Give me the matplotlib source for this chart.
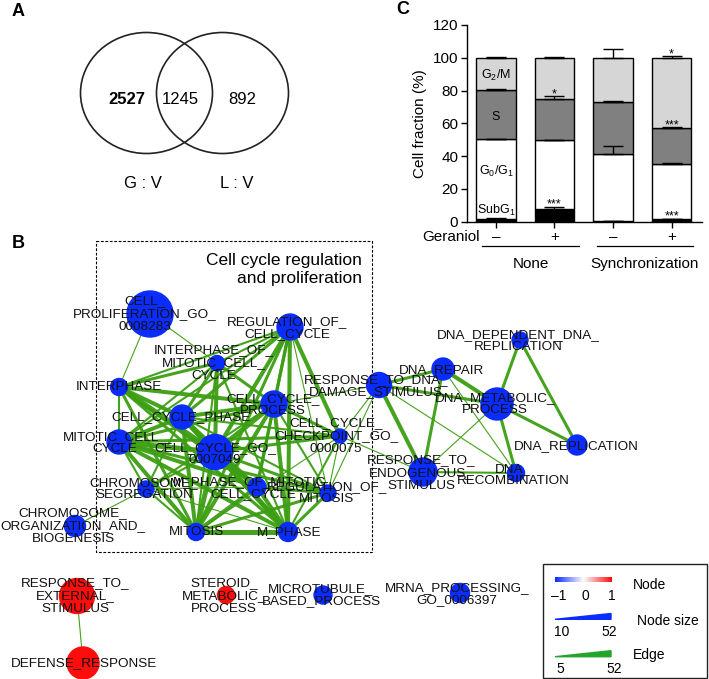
import numpy as np
import matplotlib.pyplot as plt
from matplotlib.patches import Ellipse, Circle, Rectangle, Polygon
from matplotlib.colors import LinearSegmentedColormap

plt.rcParams['font.family'] = ['Liberation Sans', 'DejaVu Sans']
plt.rcParams['mathtext.fontset'] = 'custom'
plt.rcParams['mathtext.rm'] = 'Liberation Sans'
plt.rcParams['mathtext.it'] = 'Liberation Sans:italic'

# ---------------- panel A data ----------------
venn_counts = [2527, 1245, 892]
venn_sets = ['G : V', 'L : V']

# ---------------- panel C data ----------------
treatment = ['–', '+', '–', '+']
groups = ['None', 'Synchronization']
subg1 = [1.8, 8.0, 0.3, 1.5]
g0g1 = [48.4, 41.8, 41.0, 34.0]
s_phase = [30.3, 25.0, 31.6, 21.6]
g2m = [19.5, 25.2, 27.1, 42.9]
subg1_err = [0.2, 1.2, 0.1, 0.4]
g0g1_err = [0.5, 0.3, 5.0, 0.3]
s_err = [0.5, 1.6, 1.0, 0.6]
g2m_err = [0.3, 0.5, 5.2, 0.9]
# (bar, phase index, mark)
stars = [(1, 0, '***'), (1, 2, '*'), (3, 3, '*'), (3, 2, '***'), (3, 0, '***')]

# ---------------- panel B data ----------------
node_names = ['PROLIF', 'REG_CC', 'INTER_MIT', 'INTERPHASE', 'CC_PROCESS', 'CC_PHASE',
              'MIT_CC', 'CC_GO', 'CHECKPOINT', 'RESP_DNA', 'DNA_REPAIR', 'DNA_DEP',
              'DNA_MET', 'DNA_REPL', 'RESP_ENDO', 'DNA_RECOMB', 'CHROM_SEG', 'M_PHASE_MIT',
              'REG_MIT', 'CHROM_ORG', 'MITOSIS', 'M_PHASE', 'RESP_EXT', 'DEFENSE',
              'STEROID', 'MICROTUB', 'MRNA']
node_labels = ['CELL_\nPROLIFERATION_GO_\n0008283', 'REGULATION_OF_\nCELL_CYCLE',
               'INTERPHASE_OF_\nMITOTIC_CELL_\nCYCLE', 'INTERPHASE', 'CELL_CYCLE_\nPROCESS',
               'CELL_CYCLE_PHASE', 'MITOTIC_CELL_\nCYCLE', 'CELL_CYCLE_GO_\n0007049',
               'CELL_CYCLE_\nCHECKPOINT_GO_\n0000075', 'RESPONSE_TO_DNA_\nDAMAGE_STIMULUS',
               'DNA_REPAIR', 'DNA_DEPENDENT_DNA_\nREPLICATION', 'DNA_METABOLIC_\nPROCESS',
               'DNA_REPLICATION', 'RESPONSE_TO_\nENDOGENOUS_\nSTIMULUS', 'DNA_\nRECOMBINATION',
               'CHROMOSOME_\nSEGREGATION', 'M_PHASE_OF_MITOTIC_\nCELL_CYCLE',
               'REGULATION_OF_\nMITOSIS', 'CHROMOSOME_\nORGANIZATION_AND_\nBIOGENESIS',
               'MITOSIS', 'M_PHASE', 'RESPONSE_TO_\nEXTERNAL_\nSTIMULUS', 'DEFENSE_RESPONSE',
               'STEROID_\nMETABOLIC_\nPROCESS', 'MICROTUBULE_\nBASED_PROCESS',
               'MRNA_PROCESSING_\nGO_0006397']
node_score = [-1] * 22 + [1, 1, 1, -1, -1]

edges = [
    ('PROLIF', 'INTERPHASE', 1), ('PROLIF', 'INTER_MIT', 1),
    ('REG_CC', 'INTER_MIT', 2), ('REG_CC', 'INTERPHASE', 2), ('REG_CC', 'CC_PROCESS', 3),
    ('REG_CC', 'CC_PHASE', 3), ('REG_CC', 'CC_GO', 4), ('REG_CC', 'MIT_CC', 2),
    ('REG_CC', 'CHECKPOINT', 4), ('REG_CC', 'M_PHASE', 4), ('REG_CC', 'MITOSIS', 3),
    ('REG_CC', 'REG_MIT', 1), ('REG_CC', 'M_PHASE_MIT', 3),
    ('INTER_MIT', 'INTERPHASE', 3), ('INTER_MIT', 'CC_PHASE', 3), ('INTER_MIT', 'CC_GO', 4),
    ('INTER_MIT', 'MIT_CC', 2), ('INTER_MIT', 'CC_PROCESS', 3), ('INTER_MIT', 'M_PHASE', 2),
    ('INTER_MIT', 'MITOSIS', 2),
    ('INTERPHASE', 'CC_PHASE', 4), ('INTERPHASE', 'CC_GO', 5), ('INTERPHASE', 'CC_PROCESS', 4),
    ('INTERPHASE', 'MIT_CC', 2), ('INTERPHASE', 'M_PHASE', 3), ('INTERPHASE', 'MITOSIS', 3),
    ('INTERPHASE', 'M_PHASE_MIT', 3),
    ('CC_PROCESS', 'CC_PHASE', 4), ('CC_PROCESS', 'CC_GO', 5), ('CC_PROCESS', 'MIT_CC', 3),
    ('CC_PROCESS', 'CHECKPOINT', 3), ('CC_PROCESS', 'M_PHASE', 4), ('CC_PROCESS', 'MITOSIS', 4),
    ('CC_PROCESS', 'REG_MIT', 2), ('CC_PROCESS', 'M_PHASE_MIT', 3), ('CC_PROCESS', 'RESP_DNA', 1),
    ('CC_PROCESS', 'CHROM_SEG', 2),
    ('CC_PHASE', 'CC_GO', 5), ('CC_PHASE', 'MIT_CC', 4), ('CC_PHASE', 'M_PHASE', 4),
    ('CC_PHASE', 'MITOSIS', 4), ('CC_PHASE', 'M_PHASE_MIT', 4), ('CC_PHASE', 'CHECKPOINT', 2),
    ('CC_PHASE', 'REG_MIT', 2), ('CC_PHASE', 'CHROM_SEG', 2),
    ('MIT_CC', 'CC_GO', 5), ('MIT_CC', 'M_PHASE', 4), ('MIT_CC', 'MITOSIS', 4),
    ('MIT_CC', 'M_PHASE_MIT', 4), ('MIT_CC', 'CHECKPOINT', 3), ('MIT_CC', 'REG_MIT', 3),
    ('MIT_CC', 'CHROM_SEG', 2),
    ('CC_GO', 'M_PHASE', 5), ('CC_GO', 'MITOSIS', 5), ('CC_GO', 'M_PHASE_MIT', 4),
    ('CC_GO', 'CHECKPOINT', 3), ('CC_GO', 'REG_MIT', 3), ('CC_GO', 'CHROM_SEG', 2),
    ('M_PHASE', 'MITOSIS', 5), ('M_PHASE', 'M_PHASE_MIT', 4), ('M_PHASE', 'REG_MIT', 3),
    ('M_PHASE', 'CHECKPOINT', 2), ('M_PHASE', 'CHROM_SEG', 1),
    ('MITOSIS', 'M_PHASE_MIT', 4), ('MITOSIS', 'REG_MIT', 3), ('MITOSIS', 'CHROM_SEG', 2),
    ('MITOSIS', 'CHECKPOINT', 1), ('M_PHASE_MIT', 'REG_MIT', 3), ('M_PHASE_MIT', 'CHROM_SEG', 1),
    ('CHROM_SEG', 'CHROM_ORG', 1),
    ('CHECKPOINT', 'RESP_DNA', 1), ('CHECKPOINT', 'RESP_ENDO', 1), ('CHECKPOINT', 'REG_MIT', 1),
    ('RESP_DNA', 'DNA_REPAIR', 3), ('RESP_DNA', 'DNA_MET', 3), ('RESP_DNA', 'RESP_ENDO', 4),
    ('RESP_DNA', 'DNA_RECOMB', 1), ('RESP_DNA', 'REG_MIT', 1),
    ('DNA_REPAIR', 'DNA_MET', 4), ('DNA_REPAIR', 'RESP_ENDO', 3), ('DNA_REPAIR', 'DNA_RECOMB', 1),
    ('DNA_MET', 'DNA_DEP', 3), ('DNA_MET', 'DNA_REPL', 3), ('DNA_MET', 'RESP_ENDO', 1),
    ('DNA_MET', 'DNA_RECOMB', 3), ('DNA_DEP', 'DNA_REPL', 3), ('RESP_ENDO', 'DNA_RECOMB', 2),
    ('RESP_EXT', 'DEFENSE', 1),
]

# layout of the network in figure pixels: node x, y, radius, label x, y
layout = {
    'PROLIF': (150, 314, 23, 145, 314), 'REG_CC': (290, 327, 13, 287, 328),
    'INTER_MIT': (217, 363, 7.5, 214, 363), 'INTERPHASE': (119, 387, 8.5, 119, 387),
    'CC_PROCESS': (274, 404, 13, 273, 405), 'CC_PHASE': (182, 417, 12, 181, 417),
    'MIT_CC': (119, 442, 12, 115, 443), 'CC_GO': (215, 452, 17.5, 215, 454),
    'CHECKPOINT': (340, 436, 7, 336, 436), 'RESP_DNA': (379, 385, 12.5, 376, 386),
    'DNA_REPAIR': (443, 369, 11, 442, 370), 'DNA_DEP': (520, 340, 8, 518, 341),
    'DNA_MET': (497, 404, 16, 495, 404), 'DNA_REPL': (577, 445, 10, 576, 446),
    'RESP_ENDO': (423, 472, 14, 421, 473), 'DNA_RECOMB': (516, 473, 8.5, 513, 475),
    'CHROM_SEG': (146, 489, 8, 144, 489), 'M_PHASE_MIT': (257, 487, 9, 253, 488),
    'REG_MIT': (328, 493, 8, 327, 493), 'CHROM_ORG': (75, 526, 10.5, 73, 526),
    'MITOSIS': (196, 532, 8.5, 196, 532), 'M_PHASE': (288, 532, 9.5, 289, 532),
    'RESP_EXT': (77, 596, 17.5, 75, 596), 'DEFENSE': (83, 663, 16, 84, 663),
    'STEROID': (226, 595, 8.5, 224, 596), 'MICROTUB': (323, 595, 9, 321, 595),
    'MRNA': (460, 593, 9.5, 457, 594),
}

BLUE = '#0a2cff'
RED = '#ff0c0c'
GREEN = '#3c9e12'

fig = plt.figure(figsize=(7.09, 6.79), dpi=100)

# full-figure canvas in pixel units for panels A, B
ax0 = fig.add_axes([0, 0, 1, 1])
ax0.set_xlim(0, 709)
ax0.set_ylim(679, 0)
ax0.axis('off')

for lab, px, py in [('A', 18, 12), ('B', 18, 243), ('C', 403, 10)]:
    ax0.text(px, py, lab, fontsize=13, fontweight='bold', ha='center', va='center')

# ---- Venn
for cx in (146.5, 222.5):
    ax0.add_patch(Ellipse((cx, 93), 132, 121, fill=False, lw=1.2, ec='#222222'))
ax0.text(127, 99, str(venn_counts[0]), fontsize=12, fontweight='bold', ha='center', va='center')
ax0.text(180, 99, str(venn_counts[1]), fontsize=12, ha='center', va='center')
ax0.text(242, 99, str(venn_counts[2]), fontsize=12, ha='center', va='center')
ax0.text(143, 183, venn_sets[0], fontsize=12, ha='center', va='center')
ax0.text(237, 183, venn_sets[1], fontsize=12, ha='center', va='center')

# ---- network
ax0.add_patch(Rectangle((95.7, 241), 276, 310.7, fill=False, lw=0.8,
                        ls=(0, (2.5, 1.5)), ec='black'))
ax0.text(362, 269.5, 'Cell cycle regulation\nand proliferation', fontsize=12.5,
         ha='right', va='center', multialignment='right', linespacing=1.2)

for a, b, w in edges:
    xa, ya = layout[a][:2]
    xb, yb = layout[b][:2]
    ax0.plot([xa, xb], [ya, yb], color=GREEN, lw=0.1 + 0.7 * w, alpha=0.95,
             solid_capstyle='butt', zorder=2)

for name, lab, sc in zip(node_names, node_labels, node_score):
    x, y, r, lx, ly = layout[name]
    ax0.add_patch(Circle((x, y), r, color=BLUE if sc < 0 else RED, zorder=3))
    ax0.text(lx, ly, lab, fontsize=9.7, ha='center', va='center', color='#111111',
             multialignment='center', linespacing=1.08, zorder=4)

# ---- legend box
ax0.add_patch(Rectangle((543.3, 564), 164, 114.3, fill=False, lw=1.0, ec='#222222'))
cmap = LinearSegmentedColormap.from_list('bwr2', [BLUE, 'white', RED])
ax0.imshow(np.linspace(-1, 1, 100)[None, :], cmap=cmap, extent=(555, 612, 582, 577),
           aspect='auto')
for v, px in zip([-1, 0, 1], [559, 585.7, 612]):
    ax0.text(px, 596, '–1' if v == -1 else str(v), fontsize=10, ha='center', va='center')
ax0.text(633, 585, 'Node', fontsize=10, ha='left', va='center')
ax0.add_patch(Polygon([(555, 619.3), (611, 613.5), (611, 619.3)], color=BLUE))
ax0.text(562, 632, '10', fontsize=10, ha='center', va='center')
ax0.text(609, 632, '52', fontsize=10, ha='center', va='center')
ax0.text(637, 621, 'Node size', fontsize=10, ha='left', va='center')
ax0.add_patch(Polygon([(555, 656.7), (611, 650.7), (611, 656.7)], color='#22a52a'))
ax0.text(560, 669, '5', fontsize=10, ha='center', va='center')
ax0.text(614, 669, '52', fontsize=10, ha='center', va='center')
ax0.text(633, 655, 'Edge', fontsize=10, ha='left', va='center')
ax0.set_xlim(0, 709)
ax0.set_ylim(679, 0)

# ---------------- panel C ----------------
axc = fig.add_axes([466.7 / 709, (679 - 221.7) / 679, (702 - 466.7) / 709, (221.7 - 25) / 679])
x = np.arange(len(treatment))
layers = [subg1, g0g1, s_phase, g2m]
errs = [subg1_err, g0g1_err, s_err, g2m_err]
colors = ['black', 'white', '#808080', '#d6d6d6']
bottom = np.zeros(len(x))
tops = []
for vals, col in zip(layers, colors):
    axc.bar(x, vals, bottom=bottom, width=0.675, color=col, edgecolor='black', lw=1, zorder=2)
    bottom = bottom + np.array(vals)
    tops.append(bottom.copy())
for top, err in zip(tops, errs):
    axc.errorbar(x, top, yerr=[np.zeros(len(x)), err], fmt='none', ecolor='black',
                 elinewidth=1, capsize=7, capthick=1, zorder=3)
for bi, pi, mark in stars:
    axc.text(x[bi], tops[pi][bi] + errs[pi][bi] - 0.5, mark, fontsize=9,
             ha='center', va='baseline', zorder=4)

axc.text(0, 89.5, 'G$_2$/M', fontsize=9, ha='center', va='center')
axc.text(0, 64, 'S', fontsize=9, ha='center', va='center')
axc.text(0, 30.5, 'G$_0$/G$_1$', fontsize=9, ha='center', va='center')
axc.text(0, 6.7, 'SubG$_1$', fontsize=9, ha='center', va='center')

axc.set_xlim(-0.5, 3.52)
axc.set_ylim(0, 120)
axc.set_yticks(range(0, 121, 20))
axc.set_xticks(x)
axc.set_xticklabels([])
axc.tick_params(axis='both', direction='out', length=4, width=1, labelsize=11, pad=2)
axc.spines['top'].set_visible(False)
axc.spines['right'].set_visible(False)
axc.spines['left'].set_linewidth(1)
axc.spines['bottom'].set_linewidth(1)
axc.set_ylabel('Cell fraction (%)', fontsize=11, labelpad=4)

tr = axc.get_xaxis_transform()
axc.text(-0.28, -0.078, 'Geraniol', fontsize=11, ha='right', va='center', transform=tr,
         clip_on=False)
for xi, t in zip(x, treatment):
    axc.text(xi, -0.078, t, fontsize=11, ha='center', va='center', transform=tr, clip_on=False)
for (x0, x1), g, gx in zip([(-0.245, 1.42), (1.72, 3.36)], groups, [0.6, 2.53]):
    axc.plot([x0, x1], [-0.124, -0.124], color='black', lw=0.9, transform=tr, clip_on=False)
    axc.text(gx, -0.215, g, fontsize=11, ha='center', va='center', transform=tr,
             clip_on=False)

fig.savefig('out.png', dpi=100)
